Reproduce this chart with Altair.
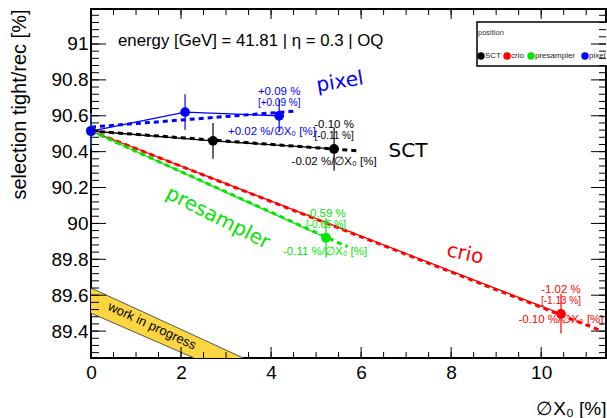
import altair as alt
import pandas as pd

W, H = 515, 349
FONT = "Liberation Sans"

# ---------------- data ----------------
series = ["SCT", "crio", "presampler", "pixel"]
colors = ["#000000", "#ff0000", "#00e600", "#0000ff"]

sct_x = [0.0, 2.71, 5.40]
sct_y = [90.515, 90.46, 90.415]
sct_e = [0.10, 0.10, 0.12]
crio_x = [0.0, 10.44]
crio_y = [90.515, 89.496]
crio_e = [0.10, 0.11]
pres_x = [0.0, 5.22]
pres_y = [90.515, 89.92]
pres_e = [0.10, 0.11]
pix_x = [0.0, 2.09, 4.18]
pix_y = [90.515, 90.62, 90.60]
pix_e = [0.10, 0.10, 0.09]

fit_x_start = [0.0, 0.0, 0.0, 0.0]
fit_y_start = [90.515, 90.515, 90.515, 90.537]
fit_x_end = [5.90, 11.35, 5.70, 4.58]
fit_y_end = [90.405, 89.40, 89.87, 90.627]

rel_change = ["-0.10 %", "-1.02 %", "-0.59 %", "+0.09 %"]
rel_change_fit = ["[-0.11 %]", "[-1.13 %]", "[-0.65 %]", "[+0.09 %]"]
slope_text = ["-0.02 %/∅X₀ [%]", "-0.10 %/∅X₀ [%]", "-0.11 %/∅X₀ [%]", "+0.02 %/∅X₀ [%]"]
slope_x = [5.40, 10.44, 5.20, 4.02]
slope_y = [90.342, 89.459, 89.84, 90.509]

band_x = [0.0, 2.29, 3.38]
band_top = [89.64, 89.376, 89.25]
band_bot = [89.50, 89.25, 89.25]

x_major = [0, 2, 4, 6, 8, 10]
x_minor = [i * 0.5 for i in range(23)]
y_major = [89.4, 89.6, 89.8, 90.0, 90.2, 90.4, 90.6, 90.8, 91.0]
y_minor = [round(89.28 + i * 0.04, 2) for i in range(48)]

# ---------------- tables ----------------
xs = [sct_x, crio_x, pres_x, pix_x]
ys = [sct_y, crio_y, pres_y, pix_y]
es = [sct_e, crio_e, pres_e, pix_e]
rows = []
for s, xx, yy, ee in zip(series, xs, ys, es):
    for i, (a, b, e) in enumerate(zip(xx, yy, ee)):
        rows.append({"series": s, "x": a, "y": b, "lo": b - e, "hi": b + e, "i": i})
pts = pd.DataFrame(rows)

fit_rows = []
for s, a0, b0, a1, b1 in zip(series, fit_x_start, fit_y_start, fit_x_end, fit_y_end):
    fit_rows.append({"series": s, "x": a0, "y": b0, "i": 0})
    fit_rows.append({"series": s, "x": a1, "y": b1, "i": 1})
fits = pd.DataFrame(fit_rows)

last = pts.groupby("series", sort=False).tail(1).set_index("series").loc[series].reset_index()
ann = pd.DataFrame({
    "series": series,
    "x": last["x"],
    "y": last["y"],
    "top": rel_change,
    "br": rel_change_fit,
    "slope": slope_text,
    "sx": slope_x,
    "sy": slope_y,
})

band = pd.DataFrame({"x": band_x, "top": band_top, "bot": band_bot})

xscale = alt.Scale(domain=[0, 11.44], nice=False, zero=False)
yscale = alt.Scale(domain=[89.25, 91.195], nice=False, zero=False)
cscale = alt.Scale(domain=series, range=colors)

xaxis = alt.Axis(
    values=x_major, ticks=False, tickSize=0, domain=False, grid=False, labelFontSize=19,
    labelFont=FONT, labelPadding=5, labelColor="black", format="d", labelFlush=False,
    title="∅X₀ [%]", titleFont=FONT, titleFontSize=19, titleFontWeight="normal",
    titleAnchor="end", titleAlign="right", titleBaseline="middle", titleY=50, titleX=W,
    titleColor="black")
yaxis = alt.Axis(
    values=y_major, ticks=False, tickSize=0, domain=False, grid=False, labelFontSize=19,
    labelFont=FONT, labelPadding=3, labelColor="black", labelFlush=False, format="~g",
    title="selection tight/rec [%]", titleFont=FONT, titleFontSize=20, titleFontWeight="normal",
    titleAngle=-90, titleAlign="right", titleBaseline="middle", titleX=-72, titleY=0,
    titleColor="black")

X = lambda f: alt.X(f"{f}:Q", scale=xscale, axis=xaxis)
Y = lambda f: alt.Y(f"{f}:Q", scale=yscale, axis=yaxis)
C = alt.Color("series:N", scale=cscale, legend=None)

# ---------------- layers ----------------
band_area = alt.Chart(band).mark_area(color="#fcd640", opacity=1, clip=True).encode(
    x=X("x"), y=Y("top"), y2="bot"
)
band_edge1 = alt.Chart(band).mark_line(color="#555555", strokeWidth=1, clip=True).encode(x=X("x"), y=Y("top"))
band_edge2 = alt.Chart(band.iloc[:2]).mark_line(color="#555555", strokeWidth=1, clip=True).encode(x=X("x"), y=Y("bot"))

one = alt.Data(values=[{}])


def txt(text, x, y, size, color="black", angle=0, align="center", font=FONT, baseline="middle"):
    return alt.Chart(one).mark_text(
        text=text, fontSize=size, color=color, angle=angle, align=align,
        baseline=baseline, font=font
    ).encode(x=alt.value(x), y=alt.value(y))


wip = txt("work in progress", 61, 317, 13, angle=25)

data_line = alt.Chart(pts).mark_line(strokeWidth=1.3).encode(
    x=X("x"), y=Y("y"), color=C, detail="series:N", order="i:Q"
)
fit_line = alt.Chart(fits).mark_line(strokeWidth=3, strokeDash=[5, 4], clip=True).encode(
    x=X("x"), y=Y("y"), color=C, detail="series:N", order="i:Q"
)
err = alt.Chart(pts).mark_rule(strokeWidth=1.2).encode(x=X("x"), y=Y("lo"), y2="hi", color=C)
dots = alt.Chart(pts).mark_point(filled=True, size=95, opacity=1).encode(x=X("x"), y=Y("y"), color=C)

ann_top = alt.Chart(ann).mark_text(fontSize=11.5, font=FONT, dy=-24).encode(
    x=X("x"), y=Y("y"), text="top:N", color=C
)
ann_br = alt.Chart(ann).mark_text(fontSize=10, font=FONT, dy=-13).encode(
    x=X("x"), y=Y("y"), text="br:N", color=C
)
ann_slope = alt.Chart(ann).mark_text(fontSize=11.5, font=FONT).encode(
    x=X("sx"), y=Y("sy"), text="slope:N", color=C
)

labels = [
    txt("pixel", 249, 73, 20, "#0000ff", angle=351, font="DejaVu Sans"),
    txt("SCT", 317, 142, 20, "#000000", font="DejaVu Sans"),
    txt("presampler", 127, 209, 20, "#00e600", angle=27, font="DejaVu Sans"),
    txt("crio", 374, 245, 20, "#ff0000", angle=12, font="DejaVu Sans"),
    txt("energy [GeV] = 41.81 | η = 0.3 | OQ", 27, 32, 16.8, align="left"),
]

legend_box = alt.Chart(one).mark_rect(fill="white", stroke="black", strokeWidth=1.5).encode(
    x=alt.value(386), x2=alt.value(517), y=alt.value(13), y2=alt.value(57)
)
legend_items = [txt("position", 387, 24, 7.5, "#333333", align="left")]
for s, c, lx in zip(series, colors, [390, 416, 440, 494]):
    legend_items.append(
        alt.Chart(one).mark_point(filled=True, size=55, color=c, opacity=1).encode(
            x=alt.value(lx), y=alt.value(47)
        )
    )
    legend_items.append(txt(s, lx + 4, 47, 8, "#222222", align="left"))


def xticks(vals, length, side):
    d = pd.DataFrame({"v": vals})
    if side == "bottom":
        yy, yy2 = H, H - length
    else:
        yy, yy2 = 0, length
    return alt.Chart(d).mark_rule(color="black", strokeWidth=1).encode(
        x=X("v"), y=alt.value(yy), y2=alt.value(yy2)
    )


def yticks(vals, length, side):
    d = pd.DataFrame({"v": vals})
    if side == "left":
        xx, xx2 = 0, length
    else:
        xx, xx2 = W, W - length
    return alt.Chart(d).mark_rule(color="black", strokeWidth=1).encode(
        y=Y("v"), x=alt.value(xx), x2=alt.value(xx2)
    )


ticks = [
    xticks(x_major, 11, "bottom"), xticks(x_minor, 6, "bottom"),
    xticks(x_major, 10, "top"), xticks(x_minor, 6, "top"),
    yticks(y_major, 15, "left"), yticks(y_minor, 8, "left"),
    yticks(y_major, 15, "right"), yticks(y_minor, 7, "right"),
]

chart = alt.layer(
    band_area, band_edge1, band_edge2, wip,
    data_line, fit_line, err, dots, ann_top, ann_br, ann_slope,
    *labels, legend_box, *legend_items, *ticks,
).properties(
    width=W, height=H,
    autosize=alt.AutoSizeParams(type="none"),
    padding={"left": 91, "top": 9, "right": 1, "bottom": 60},
    background="white",
).configure_view(stroke="black", strokeWidth=2)

chart.save("out.html", embed_options={"renderer": "svg", "actions": False})
